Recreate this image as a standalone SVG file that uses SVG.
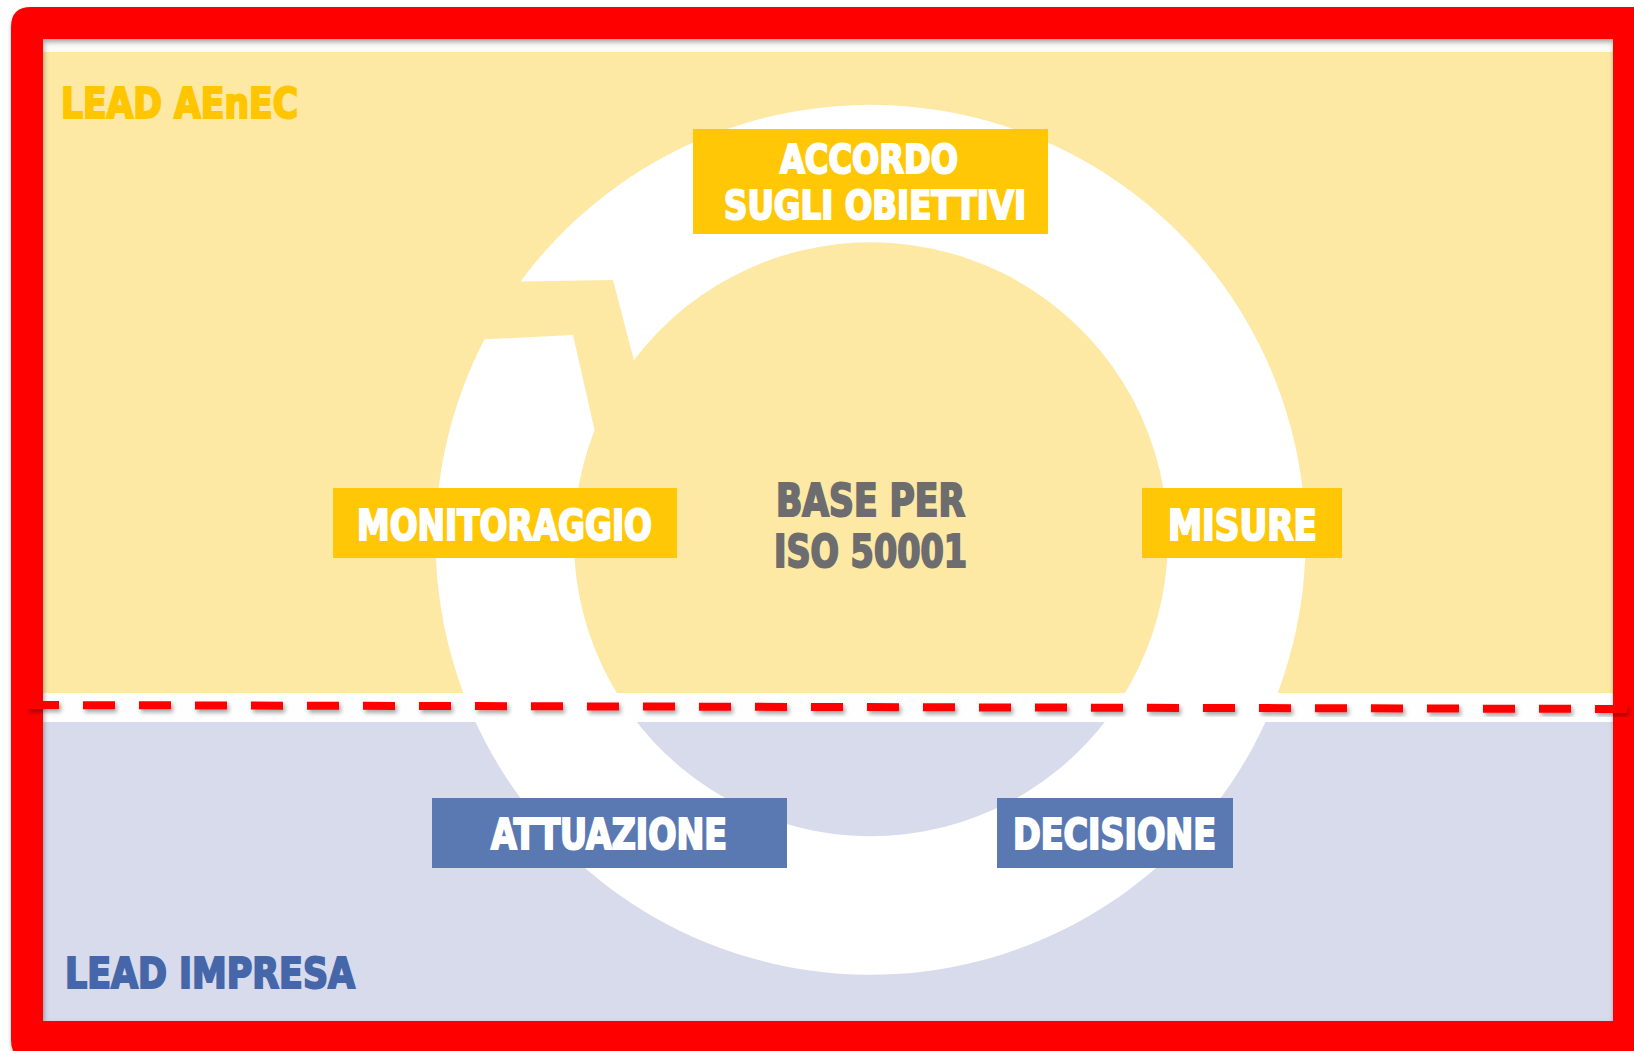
<svg xmlns="http://www.w3.org/2000/svg" width="1634" height="1051" viewBox="0 0 1634 1051">
<style>
.t{font-family:"DejaVu Sans Condensed","DejaVu Sans","Liberation Sans",sans-serif;font-weight:bold;stroke-width:2;stroke-linejoin:miter;}
.w{fill:#FFFFFF;stroke:#FFFFFF;font-size:42px;}
.w2{font-size:39.5px;}
.yb{fill:#FFC705;}
.bb{fill:#5A79B3;}
.g{fill:#6D6D70;stroke:#6D6D70;font-size:44px;}
</style>
<defs>
<filter id="sh" x="-5%" y="-5%" width="110%" height="110%">
<feDropShadow dx="1" dy="3" stdDeviation="2.5" flood-color="#000" flood-opacity="0.35"/>
</filter>
<filter id="sh2" x="-5%" y="-200%" width="110%" height="500%">
<feDropShadow dx="2" dy="3" stdDeviation="2" flood-color="#000" flood-opacity="0.35"/>
</filter>
</defs>
<rect x="0" y="0" width="1634" height="1051" fill="#FFFFFF"/>
<g id="background">
<rect x="43" y="39" width="1570" height="13" fill="#FBFBF8"/>
<rect x="43" y="52" width="1570" height="641" fill="#FDE8A4"/>
<rect x="43" y="693" width="1570" height="29" fill="#FEFEFE"/>
<rect x="43" y="722" width="1570" height="299" fill="#D8DBEB"/>
</g>
<g id="connectors">
<path d="M484.5 339.3 A435 435 0 1 0 520.6 281.4 L613 280 L633.9 360.2 A297 297 0 1 1 594.6 430.2 L573 335 Z" fill="#FFFFFF"/>
</g>
<g id="accordo">
<rect class="yb" x="693" y="129" width="355" height="105"/>
<text class="t w w2" x="780" y="173" textLength="178" lengthAdjust="spacingAndGlyphs">ACCORDO</text>
<text class="t w w2" x="724" y="219" textLength="302" lengthAdjust="spacingAndGlyphs">SUGLI OBIETTIVI</text>
</g>
<g id="monitoraggio">
<rect class="yb" x="333" y="488" width="344" height="70"/>
<text class="t w" x="357" y="540" textLength="295" lengthAdjust="spacingAndGlyphs">MONITORAGGIO</text>
</g>
<g id="misure">
<rect class="yb" x="1142" y="488" width="200" height="70"/>
<text class="t w" x="1168" y="540" textLength="149" lengthAdjust="spacingAndGlyphs">MISURE</text>
</g>
<g id="attuazione">
<rect class="bb" x="432" y="798" width="355" height="70"/>
<text class="t w" x="491" y="849" textLength="236" lengthAdjust="spacingAndGlyphs">ATTUAZIONE</text>
</g>
<g id="decisione">
<rect class="bb" x="997" y="798" width="236" height="70"/>
<text class="t w" x="1013" y="849" textLength="203" lengthAdjust="spacingAndGlyphs">DECISIONE</text>
</g>
<g id="center">
<text class="t g" x="776" y="516" textLength="189" lengthAdjust="spacingAndGlyphs">BASE PER</text>
<text class="t g" x="774" y="567" textLength="193" lengthAdjust="spacingAndGlyphs">ISO 50001</text>
</g>
<g id="lead-aenec">
<text class="t" x="61" y="118" font-size="42" fill="#FFC600" stroke="#FFC600" textLength="237" lengthAdjust="spacingAndGlyphs">LEAD AEnEC</text>
</g>
<g id="lead-impresa">
<text class="t" x="65" y="988" font-size="43" fill="#4566A9" stroke="#4566A9" textLength="290" lengthAdjust="spacingAndGlyphs">LEAD IMPRESA</text>
</g>
<g id="frame">
<path d="M31 7 H1634 V1060 H31 Q11 1060 11 1040 V27 Q11 7 31 7 Z M43 39 V1021 H1613 V39 Z" fill="#FF0000" fill-rule="evenodd" filter="url(#sh)"/>
</g>
<g id="divider">
<line x1="27" y1="705" x2="1627" y2="709" stroke="#FF0000" stroke-width="8" stroke-dasharray="32 24" filter="url(#sh2)"/>
</g>
</svg>
